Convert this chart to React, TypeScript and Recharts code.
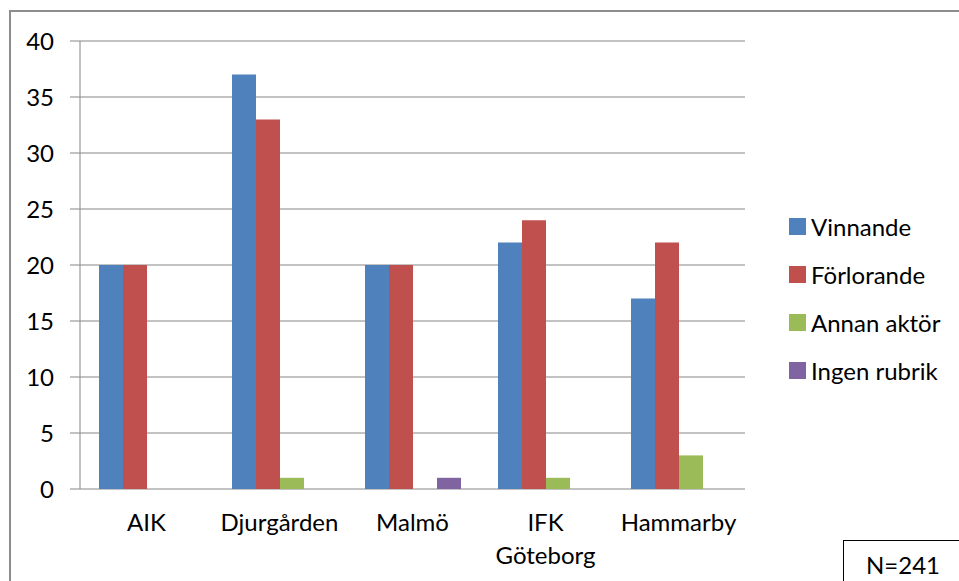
import { BarChart, Bar, XAxis, YAxis, CartesianGrid, Legend } from 'recharts';

const categories = ['AIK', 'Djurgården', 'Malmö', 'IFK Göteborg', 'Hammarby'];
const seriesNames = ['Vinnande', 'Förlorande', 'Annan aktör', 'Ingen rubrik'];
const vinnande = [20, 37, 20, 22, 17];
const forlorande = [20, 33, 20, 24, 22];
const annanAktor = [0, 1, 0, 1, 3];
const ingenRubrik = [0, 0, 1, 0, 0];
const yTicks = [0, 5, 10, 15, 20, 25, 30, 35, 40];
const boundaryTicks = [0, 1, 2, 3, 4, 5];

const data = categories.map((name, i) => ({
  name,
  vinnande: vinnande[i],
  forlorande: forlorande[i],
  annan: annanAktor[i],
  ingen: ingenRubrik[i],
}));

const FONT = 'Lato, "Open Sans", sans-serif';
const GRID = '#868686';

function CategoryTick(props: any) {
  const { x, y, payload } = props;
  const lines = String(payload.value).split(' ');
  return (
    <text x={x} y={y} textAnchor="middle" fill="#000" fontSize={24} fontFamily={FONT}>
      {lines.map((l, i) => (
        <tspan key={i} x={x} dy={i === 0 ? 34 : 33}>
          {l}
        </tspan>
      ))}
    </text>
  );
}

function LegendBox(props: any) {
  const items = [...(props.payload || [])].sort(
    (a: any, b: any) => seriesNames.indexOf(a.value) - seriesNames.indexOf(b.value)
  );
  return (
    <div style={{ fontFamily: FONT, fontSize: 24, color: '#000' }}>
      {items.map((entry: any) => (
        <div key={entry.value} style={{ display: 'flex', alignItems: 'center', height: 48 }}>
          <span style={{ width: 17, height: 17, background: entry.color, marginRight: 5 }} />
          <span>{entry.value}</span>
        </div>
      ))}
    </div>
  );
}

export default function App() {
  return (
    <div style={{ position: 'absolute', left: 0, top: 0, width: 959, height: 581, overflow: 'hidden', background: '#fff' }}>
      <div
        style={{
          position: 'absolute',
          left: 9,
          top: 10,
          width: 1000,
          height: 700,
          border: '2px solid #8d8d8d',
        }}
      />
      <div style={{ position: 'absolute', left: 0, top: 0 }}>
        <BarChart
          width={959}
          height={581}
          data={data}
          margin={{ top: 41, right: 214, bottom: 0, left: 0 }}
          barSize={24}
          barGap={0}
        >
          <CartesianGrid horizontal vertical={false} stroke={GRID} strokeWidth={1} />
          <XAxis
            xAxisId="edges"
            type="number"
            domain={[0, 5]}
            ticks={boundaryTicks}
            tick={false}
            tickSize={6}
            height={0}
            stroke={GRID}
            allowDataOverflow
          />
          <XAxis
            dataKey="name"
            height={92}
            axisLine={false}
            tickLine={false}
            interval={0}
            tick={<CategoryTick />}
          />
          <YAxis
            width={80}
            domain={[0, 40]}
            ticks={yTicks}
            interval={0}
            tickSize={10}
            tickMargin={16}
            stroke={GRID}
            tick={{ fill: '#000', fontSize: 24, fontFamily: FONT }}
          />
          <Legend
            layout="horizontal"
            verticalAlign="middle"
            align="center"
            wrapperStyle={{ left: 789, top: 202, width: 170 }}
            content={<LegendBox />}
          />
          <Bar dataKey="vinnande" name={seriesNames[0]} fill="#4F81BD" isAnimationActive={false} />
          <Bar dataKey="forlorande" name={seriesNames[1]} fill="#C0504D" isAnimationActive={false} />
          <Bar dataKey="annan" name={seriesNames[2]} fill="#9BBB59" isAnimationActive={false} />
          <Bar dataKey="ingen" name={seriesNames[3]} fill="#8064A2" isAnimationActive={false} />
        </BarChart>
      </div>
      <div
        style={{
          position: 'absolute',
          left: 843,
          top: 540,
          width: 200,
          height: 100,
          border: '1.5px solid #000',
          background: '#fff',
          fontFamily: FONT,
          fontSize: 24,
          paddingLeft: 22,
          paddingTop: 9,
          boxSizing: 'border-box',
        }}
      >
        N=241
      </div>
    </div>
  );
}
